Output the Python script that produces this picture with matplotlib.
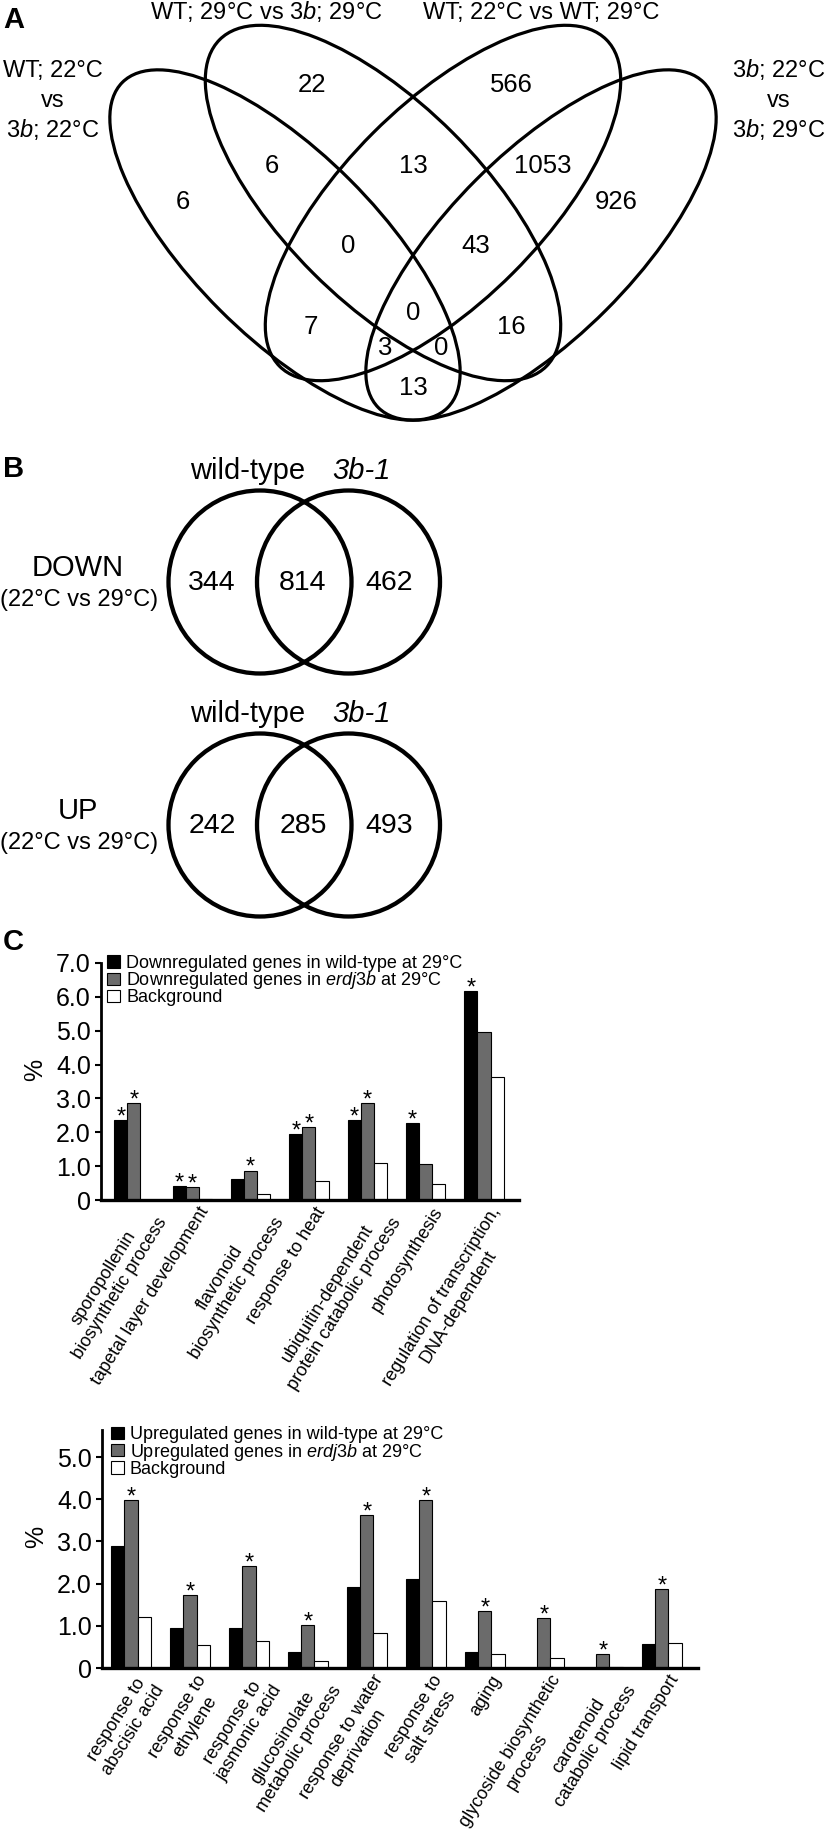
import numpy as np
import matplotlib.pyplot as plt
from matplotlib.patches import Ellipse, Circle
from matplotlib.transforms import ScaledTranslation

plt.rcParams['font.family'] = ['Liberation Sans', 'DejaVu Sans']
plt.rcParams['mathtext.fontset'] = 'custom'
plt.rcParams['mathtext.rm'] = 'Liberation Sans'
plt.rcParams['mathtext.it'] = 'Liberation Sans:italic'

# ---------------- data ----------------
# panel A: four-set overlap counts (regions in reading order)
venn4_counts = [6, 22, 566, 926, 6, 13, 1053, 0, 43, 7, 0, 16, 3, 0, 13]

# panel B: two-set overlaps (wild-type only, both, 3b-1 only)
venn_down = [344, 814, 462]
venn_up = [242, 285, 493]

# panel C: GO enrichment (%)
down_terms = ["sporopollenin\nbiosynthetic process", "tapetal layer development",
              "flavonoid\nbiosynthetic process", "response to heat",
              "ubiquitin-dependent\nprotein catabolic process", "photosynthesis",
              "regulation of transcription,\nDNA-dependent"]
down_wt = [2.37, 0.40, 0.63, 1.94, 2.37, 2.26, 6.18]
down_3b = [2.86, 0.37, 0.87, 2.16, 2.86, 1.06, 4.96]
down_bg = [0.0, 0.04, 0.18, 0.56, 1.10, 0.48, 3.62]
down_sig_wt = [1, 1, 0, 1, 1, 1, 1]
down_sig_3b = [1, 1, 1, 1, 1, 0, 0]

up_terms = ["response to\nabscisic acid", "response to\nethylene",
            "response to\njasmonic acid", "glucosinolate\nmetabolic process",
            "response to water\ndeprivation", "response to\nsalt stress", "aging",
            "glycoside biosynthetic\nprocess", "carotenoid\ncatabolic process",
            "lipid transport"]
up_wt = [2.90, 0.95, 0.95, 0.37, 1.93, 2.10, 0.37, 0.0, 0.0, 0.56]
up_3b = [3.99, 1.72, 2.41, 1.02, 3.62, 3.98, 1.36, 1.18, 0.32, 1.88]
up_bg = [1.20, 0.54, 0.64, 0.17, 0.82, 1.59, 0.34, 0.24, 0.03, 0.59]
up_sig_wt = [0] * 10
up_sig_3b = [1] * 10

# ---------------- layout params (pixels of the 826x1830 canvas) ----------------
W, H = 826, 1830
GRAY = '#6b6b6b'
VENN_LW = 2.3
CIRCLE_LW = 3.1

fig = plt.figure(figsize=(W / 100, H / 100), dpi=100)
canvas = fig.add_axes([0, 0, 1, 1])
canvas.set_xlim(0, W)
canvas.set_ylim(H, 0)
canvas.axis('off')

# panel letters
for letter, yb in [('A', 28), ('B', 477), ('C', 950)]:
    canvas.text(3, yb, letter, fontsize=21, fontweight='bold', va='baseline')

# --- panel A ---
ellipses = [((285, 245), 460, 184, 45), ((383, 203), 462, 198, 45),
            ((443, 203), 462, 198, -45), ((541, 245), 460, 184, -45)]
for c, w, h, ang in ellipses:
    canvas.add_patch(Ellipse(c, w, h, angle=ang, fill=False, lw=VENN_LW, ec='k'))

region_pos = [(183, 209), (312, 92), (511, 92), (616, 209), (272, 173), (413, 173),
              (543, 173), (348, 253), (476, 253), (311, 334), (413, 320), (511, 334),
              (385, 355), (441, 355), (413, 395)]
for n, (x, y) in zip(venn4_counts, region_pos):
    canvas.text(x, y, str(n), fontsize=18.5, ha='center', va='baseline')

canvas.text(266, 18.5, "WT; 29°C vs $\\mathit{3b}$; 29°C", fontsize=17, ha='center', va='baseline')
canvas.text(541, 18.5, "WT; 22°C vs WT; 29°C", fontsize=17, ha='center', va='baseline')
for x, l1, l3 in [(53, "WT; 22°C", "$\\mathit{3b}$; 22°C"), (779, "$\\mathit{3b}$; 22°C", "$\\mathit{3b}$; 29°C")]:
    canvas.text(x, 77, l1, fontsize=17, ha='center', va='baseline')
    canvas.text(x, 107, "vs", fontsize=17, ha='center', va='baseline')
    canvas.text(x, 137, l3, fontsize=17, ha='center', va='baseline')

# --- panel B ---
for cy, counts, name in [(582, venn_down, "DOWN"), (825, venn_up, "UP")]:
    canvas.add_patch(Circle((260, cy), 91.5, fill=False, lw=CIRCLE_LW, ec='k'))
    canvas.add_patch(Circle((348.5, cy), 91.5, fill=False, lw=CIRCLE_LW, ec='k'))
    canvas.text(248, cy - 103, "wild-type", fontsize=21, ha='center', va='baseline')
    canvas.text(362, cy - 103, "3b-1", fontsize=21, ha='center', va='baseline', style='italic')
    for n, x in zip(counts, [212, 303, 389]):
        canvas.text(x, cy + 8, str(n), fontsize=20.5, ha='center', va='baseline')
    canvas.text(78, cy - 6, name, fontsize=21, ha='center', va='baseline')
    canvas.text(79, cy + 24, "(22°C vs 29°C)", fontsize=17, ha='center', va='baseline')


# --- panel C ---
def bar_panel(rect, terms, wt, mut, bg, sig_wt, sig_mut, xlim, ymax, leg_labels, leg_y, pct_x):
    ax = fig.add_axes(rect)
    x = np.arange(len(terms))
    bw = 0.225
    b1 = ax.bar(x - bw, wt, bw, color='k', edgecolor='k', lw=0.8)
    b2 = ax.bar(x, mut, bw, color=GRAY, edgecolor='k', lw=0.8)
    b3 = ax.bar(x + bw, bg, bw, color='white', edgecolor='k', lw=0.8)
    for xs, vals, sig in [(x - bw, wt, sig_wt), (x, mut, sig_mut)]:
        for xi, v, s in zip(xs, vals, sig):
            if s:
                ax.annotate('*', (xi, v), xytext=(0, -2.5), textcoords='offset points',
                            ha='center', va='baseline', fontsize=17)
    ax.set_xlim(*xlim)
    ax.set_ylim(0, ymax)
    ticks = np.arange(0, int(ymax) + 1)
    ax.set_yticks(ticks, ['0'] + [f'{t:.1f}' for t in ticks[1:]], fontsize=18)
    ax.tick_params(axis='y', length=4.3, width=1.5, pad=3)
    ax.set_xticks(x, terms, rotation=58, rotation_mode='anchor', ha='right', va='top',
                  multialignment='center', fontsize=13)
    ax.tick_params(axis='x', length=0, pad=3)
    offset = ScaledTranslation(0.06, 0, fig.dpi_scale_trans)
    for lbl in ax.get_xticklabels():
        lbl.set_transform(lbl.get_transform() + offset)
    for side in ['top', 'right']:
        ax.spines[side].set_visible(False)
    ax.spines['left'].set_linewidth(2.0)
    ax.spines['bottom'].set_linewidth(2.4)
    ax.text(pct_x, 0.55, '%', transform=ax.transAxes,
            rotation=90, fontsize=18, ha='center', va='center')
    ax.legend([b1, b2, b3], leg_labels, loc='upper left', bbox_to_anchor=(0.0144, leg_y),
              frameon=False, fontsize=13, handlelength=0.73, handleheight=0.67,
              handletextpad=0.33, labelspacing=-0.1, borderpad=0, borderaxespad=0)
    return ax


bar_panel([101 / W, 1 - 1200 / H, 418 / W, 237 / H], down_terms, down_wt, down_3b, down_bg,
          down_sig_wt, down_sig_3b, (-0.563, 6.6), 7.0,
          ["Downregulated genes in wild-type at 29°C",
           "Downregulated genes in $\\mathit{erdj3b}$ at 29°C", "Background"], 1.034, -0.158)

bar_panel([102 / W, 1 - 1668 / H, 596 / W, 238 / H], up_terms, up_wt, up_3b, up_bg,
          up_sig_wt, up_sig_3b, (-0.49, 9.614), 5.64,
          ["Upregulated genes in wild-type at 29°C",
           "Upregulated genes in $\\mathit{erdj3b}$ at 29°C", "Background"], 1.015, -0.111)

fig.savefig('out.png', dpi=100)
